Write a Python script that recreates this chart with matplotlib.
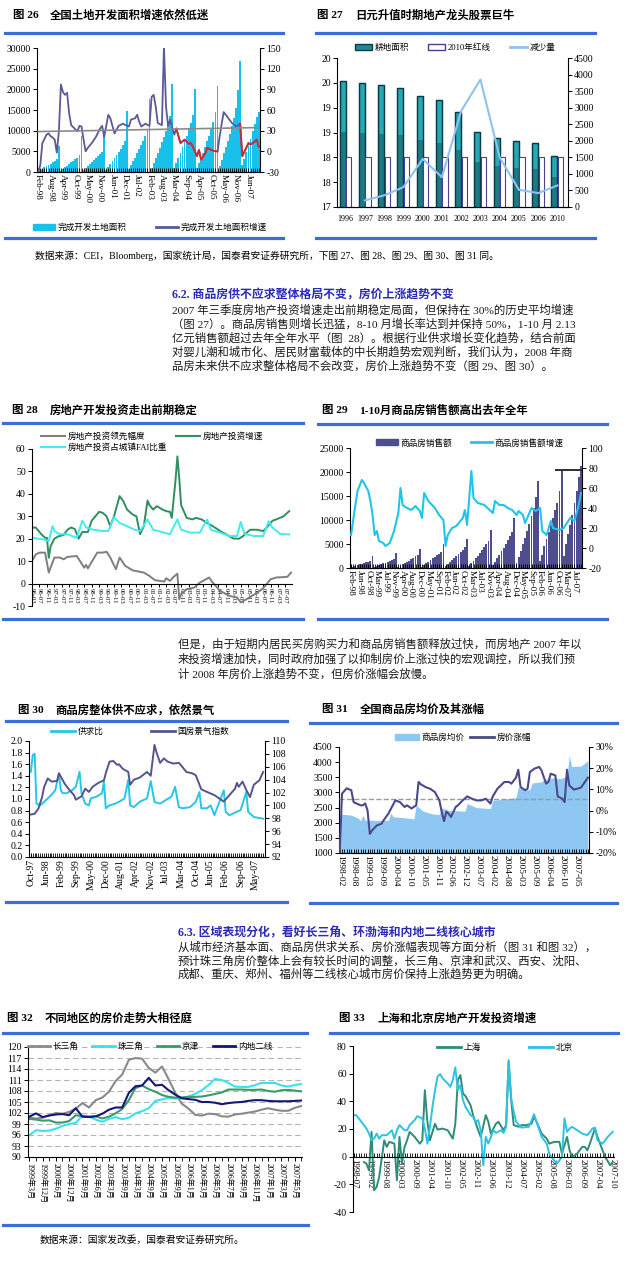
import matplotlib
matplotlib.use("Agg")
import matplotlib.pyplot as plt
from matplotlib.lines import Line2D
from matplotlib.patches import Patch

plt.rcParams['font.family'] = ['Liberation Serif', 'Noto Sans CJK SC']
plt.rcParams['axes.unicode_minus'] = False
plt.rcParams['axes.linewidth'] = 0.8

# ---------------- fig 26 data ----------------
c26_ticklabels = ["Feb-98", "Aug-98", "Apr-99", "Oct-99", "May-00", "Nov-00", "Jun-01", "Dec-01",
                  "Jul-02", "Feb-03", "Aug-03", "Mar-04", "Sep-04", "Apr-05", "Oct-05", "May-06",
                  "Nov-06", "Jun-07"]
land_1998 = [200, 500, 800, 1100, 1400, 1700, 2000, 2300, 2700, 3100, 6200]
land_1999 = [300, 700, 1100, 1500, 1900, 2300, 2700, 3100, 3500, 4200, 8800]
land_2000 = [400, 900, 1400, 1900, 2400, 2900, 3400, 3900, 4400, 4900, 10000]
land_2001 = [600, 1300, 2000, 2700, 3400, 4100, 4800, 5600, 6500, 7600, 14800]
land_2002 = [800, 1700, 2600, 3500, 4500, 5500, 6500, 7500, 8600, 10200, 17700]
land_2003 = [1000, 2200, 3400, 4600, 5900, 7200, 8500, 9800, 11300, 13600, 21200]
land_2004 = [1000, 2200, 3400, 4700, 6000, 7400, 8800, 10300, 11900, 13700, 20000]
land_2005 = [1000, 2200, 3400, 4700, 6000, 7400, 8800, 10300, 12000, 14400, 20800]
land_2006 = [1500, 3000, 4500, 6000, 7600, 9300, 11100, 13100, 15500, 19800, 26800]
land_2007 = [1600, 3200, 4800, 6400, 8100, 9800, 11600, 13200, 14600]
c26_growth_x = [0, 1, 2, 4, 5, 6, 7, 8, 9, 10, 11, 12, 13, 14, 15, 16, 19, 20, 21, 22,
                23, 24, 26, 28, 30, 31, 32, 34, 35, 37, 39, 41, 44, 45, 47, 48, 49, 50, 52, 54,
                55, 56, 57, 58, 60, 61, 62, 63, 64, 66, 67, 69, 71, 73, 74, 75, 77, 78, 79, 81,
                82, 84, 86, 87, 88, 89, 90, 94, 96, 98, 99, 102, 103, 105, 106, 107]
c26_growth_y = [-30, -20, 12, 24, 26, 22, 20, 17, -2, 28, 97, 86, 82, 85, 55, 38, 29, 37, 36, 17,
                0, 5, 12, 21, 33, 37, 21, 53, 48, 26, 37, 40, 36, 46, 48, 53, 43, 36, 40, 37,
                79, 82, 65, 41, 38, 152, 65, 37, 46, 24, 33, 12, 17, 11, 12, 7, -7, 2, -12, -3,
                5, 2, 0, 0, 21, 40, 57, 41, 36, 40, -7, 12, 10, 14, 17, 7]
c26_red_spans = [(67, 87), (98, 107)]
c26_trend = [28.7, 34.5]

# ---------------- fig 27 data ----------------
c27_years = ["1996", "1997", "1998", "1999", "2000", "2001", "2002", "2003", "2004", "2005", "2006", "2010"]
c27_farmland = [19.53, 19.49, 19.46, 19.40, 19.24, 19.16, 18.92, 18.52, 18.38, 18.32, 18.29, 18.02]
c27_redline = [18.0, 18.0, 18.0, 18.0, 18.0, 18.0, 18.0, 18.0, 18.0, 18.0, 18.0, 18.0]
c27_decrease_x = [1, 2, 3, 4, 5, 6, 7, 8, 9, 10, 11]
c27_decrease = [200, 350, 600, 1450, 900, 2900, 3850, 1500, 520, 420, 650]
c27_yticklabels = ["17", "18", "18", "19", "19", "20", "20"]

# ---------------- fig 28 data ----------------
c28_ticklabels = ["96-03", "96-07", "96-11", "97-03", "97-07", "97-11", "98-03", "98-07", "98-11",
                  "99-03", "99-07", "99-11", "00-03", "00-07", "00-11", "01-03", "01-07", "01-11",
                  "02-03", "02-07", "02-11", "03-03", "03-07", "03-11", "04-03", "04-07", "04-11",
                  "05-03", "05-07", "05-11", "06-03", "06-07", "06-11", "07-03", "07-07"]
c28_green_m = [0, 2, 5, 7, 8, 9, 10, 12, 14, 17, 19, 21, 23, 25, 27, 30, 32, 36, 38, 40,
               42, 44, 47, 49, 51, 54, 56, 58, 60, 62, 63, 65, 67, 70, 72, 74, 75, 77, 78, 79,
               80, 83, 86, 88, 91, 94, 97, 101, 104, 108, 111, 113, 117, 121, 124, 126, 129, 131, 135, 138]
c28_green_v = [24.9, 25, 22, 20.4, 20.4, 11.5, 16.7, 20, 21, 21.7, 24, 25, 24.3, 20, 23, 23, 28, 32, 31.5, 30,
               25.6, 30, 39, 36.7, 33, 30.8, 30, 22, 25.6, 37, 35, 33, 34.5, 33, 32.3, 32, 29.3, 46, 56.7, 47,
               35, 29.3, 28.6, 29.3, 28.6, 27, 25.6, 23.4, 22, 20.1, 20, 21, 24, 24, 23.4, 25, 28, 28.6, 30, 32.3]
c28_cyan_m = [0, 6, 9, 11, 12, 15, 19, 24, 27, 29, 33, 38, 41, 44, 47, 51, 55, 58, 62, 65,
              71, 74, 78, 80, 85, 90, 94, 96, 101, 106, 110, 112, 114, 119, 124, 127, 129, 133, 138]
c28_cyan_v = [20.4, 19.7, 19, 25.6, 23.4, 22, 22, 20.4, 28, 25, 24, 23.4, 23.4, 29.6, 27, 25.6, 24, 23.4, 28.6, 24,
              22.7, 22, 28.6, 24, 22.7, 22.7, 28.6, 24, 22.7, 21.2, 21.2, 27.5, 22.2, 21.2, 21.2, 27.8, 25, 22.2, 21.9]
c28_gray_m = [0, 2, 4, 7, 9, 12, 15, 17, 19, 24, 28, 29, 30, 35, 38, 40, 42, 45, 47, 50,
              54, 60, 63, 66, 71, 72, 74, 76, 78, 79, 80, 83, 87, 90, 95, 97, 101, 106, 110, 112,
              115, 121, 124, 128, 131, 137, 139]
c28_gray_v = [10, 13, 13.8, 13.8, 4.9, 11.6, 11.6, 10.8, 11.9, 12.3, 7.1, 8.3, 6.8, 13.8, 13.8, 14.2, 11.6, 6.4, 11.6, 7.9,
              5.9, 4.9, 3.4, 1.5, 0.9, 2.4, 1.2, 3, 4.4, -7, -4.7, -2.5, -1.8, 0.4, 2.7, 0.4, -3.3, -5.5, -6.2, -8.4,
              -7, -4, -2.1, 1.9, 2.7, 3, 4.9]

# ---------------- fig 29 data ----------------
c29_ticklabels = ["Feb-98", "Jun-98", "Oct-98", "Mar-99", "Jul-99", "Nov-99", "Apr-00", "Aug-00", "Dec-00",
                  "May-01", "Sep-01", "Feb-02", "Jun-02", "Oct-02", "Mar-03", "Jul-03", "Nov-03", "Apr-04",
                  "Aug-04", "Dec-04", "May-05", "Sep-05", "Feb-06", "Jun-06", "Oct-06", "Mar-07", "Jul-07"]
sales_1998 = [150, 300, 450, 600, 750, 900, 1050, 1200, 1350, 1500, 2500]
sales_1999 = [200, 400, 600, 800, 950, 1100, 1300, 1500, 1700, 1900, 3100]
sales_2000 = [250, 500, 750, 1000, 1300, 1550, 1800, 2100, 2400, 2700, 3900]
sales_2001 = [300, 650, 1000, 1300, 1650, 2000, 2300, 2650, 3000, 3400, 4900]
sales_2002 = [400, 800, 1200, 1600, 2000, 2500, 2900, 3300, 3800, 4300, 6000]
sales_2003 = [500, 1000, 1500, 2000, 2600, 3200, 3700, 4300, 4900, 5600, 8000]
sales_2004 = [600, 1300, 2000, 2700, 3500, 4200, 5000, 5800, 6600, 7500, 10400]
sales_2005 = [1100, 2300, 3500, 4900, 6300, 7700, 9200, 10800, 12600, 14700, 18100]
sales_2006 = [1500, 2800, 4500, 6000, 7500, 9000, 10500, 12000, 13500, 16000, 20500]
sales_2007 = [2500, 5000, 7000, 9000, 11000, 13500, 16000, 19000, 21300]
c29_growth_x = [0, 2, 3, 5, 6, 8, 9, 10, 11, 12, 13, 15, 16, 18, 20, 22, 23, 24, 26, 28,
                30, 32, 33, 34, 36, 39, 41, 43, 44, 45, 47, 49, 52, 53, 54, 56, 57, 59, 62, 66,
                67, 69, 71, 73, 75, 77, 78, 80, 81, 84, 86, 88, 89, 91, 93, 94, 97, 99, 102, 104, 106, 107]
c29_growth_y = [13, 43, 57, 68, 65, 57, 47, 33, 13, 17, 7, 5, 2, 5, 17, 35, 60, 43, 40, 38,
                42, 37, 30, 55, 47, 40, 33, 28, 2, 13, 20, 22, 30, 38, 23, 77, 50, 45, 43, 35,
                47, 43, 43, 40, 38, 33, 37, 33, 25, 40, 37, 40, 17, 13, 27, 20, 18, 20, 30, 27, 43, 55]
c29_mark_level = 20500
c29_mark_span = (95, 107.4)

# ---------------- fig 30 data ----------------
c30_ticklabels = ["Oct-97", "Jun-98", "Feb-99", "Sep-99", "May-00", "Dec-00", "Aug-01", "Apr-02",
                  "Nov-02", "Jul-03", "Mar-04", "Oct-04", "Jun-05", "Feb-06", "Sep-06", "May-07"]
c30_ratio_x = [0, 1, 2, 3, 5, 7, 9, 11, 13, 15, 16, 17, 19, 22, 24, 26, 27, 29, 31, 32,
               35, 38, 39, 40, 42, 45, 47, 50, 52, 53, 55, 58, 62, 64, 66, 69, 72, 75, 77, 79,
               81, 85, 88, 90, 91, 94, 96, 98, 99, 103, 104, 106, 110, 112, 115, 116, 119, 124]
c30_ratio_y = [1.47, 1.76, 1.78, 0.92, 0.89, 0.95, 1.01, 1.07, 1.15, 1.44, 1.15, 1.10, 1.10, 1.15, 1.21, 1.47, 1.10, 0.92, 0.89, 1.01,
               1.04, 1.10, 1.30, 0.84, 0.89, 0.92, 0.95, 1.01, 1.33, 0.89, 0.86, 0.95, 1.01, 1.31, 0.95, 0.92, 0.98, 1.04, 1.21, 0.86,
               0.84, 0.86, 0.95, 1.12, 0.84, 0.84, 0.89, 0.72, 0.81, 1.15, 0.78, 0.72, 0.78, 0.81, 1.12, 0.78, 0.69, 0.66]
c30_index_x = [0, 2, 4, 6, 7, 9, 11, 14, 15, 18, 20, 23, 24, 27, 29, 31, 33, 36, 39, 40,
               42, 44, 46, 47, 49, 52, 53, 55, 58, 62, 64, 66, 67, 69, 71, 73, 76, 79, 80, 83,
               86, 88, 91, 94, 98, 103, 106, 109, 110, 111, 113, 115, 117, 119, 122, 124]
c30_index_y = [98.6, 98.7, 99.5, 101.3, 102.8, 104.2, 103.7, 103.8, 105.0, 103.4, 102.6, 101.6, 100.9, 101.4, 102.6, 102.1, 102.9, 103.5, 103.9, 105.0,
               106.8, 106.9, 106.3, 106.4, 105.7, 105.2, 103.2, 104.0, 104.3, 105.2, 104.6, 109.4, 108.3, 106.6, 107.3, 106.8, 106.5, 106.6, 106.3, 105.2,
               105.0, 104.7, 102.5, 102.1, 101.6, 100.6, 101.6, 102.6, 103.5, 102.9, 103.7, 102.4, 101.3, 103.2, 103.9, 105.2]

# ---------------- fig 31 data ----------------
c31_ticklabels = ["1998-02", "1998-08", "1999-03", "1999-09", "2000-04", "2000-10", "2001-05", "2001-11",
                  "2002-06", "2002-12", "2003-07", "2004-02", "2004-08", "2005-03", "2005-09", "2006-04",
                  "2006-10", "2007-05"]
c31_price_x = [0, 1, 5, 8, 9, 10, 11, 21, 22, 23, 32, 33, 36, 40, 43, 44, 47, 54, 55, 59,
               65, 66, 72, 76, 77, 80, 82, 83, 87, 88, 92, 95, 98, 99, 100, 104, 107]
c31_price_y = [2135, 2280, 2250, 2150, 2060, 2245, 2080, 2080, 2320, 2200, 2130, 2575, 2380, 2290, 2270, 2490, 2410, 2380, 2630, 2500,
               2465, 2740, 2790, 2830, 3180, 3070, 3100, 3310, 3350, 3420, 3480, 3450, 3530, 4225, 3860, 3870, 4040]
c31_rise_x = [0, 1, 3, 5, 6, 9, 10, 11, 12, 13, 14, 16, 18, 19, 21, 24, 26, 28, 29, 31,
              33, 34, 35, 37, 39, 41, 43, 44, 45, 46, 47, 48, 50, 51, 53, 55, 57, 59, 61, 63,
              65, 66, 68, 71, 73, 74, 76, 77, 78, 80, 81, 82, 84, 86, 87, 89, 90, 91, 93, 94,
              96, 97, 98, 99, 101, 104, 107]
c31_rise_y = [-19.5, 8, 10.5, 9.6, 4, 2.5, 2.5, 3.4, 0.1, -11, -9.3, -7, -6.2, -4.5, -1.4, 4.8, 4, 1.7, 2.5, 1,
              2.5, 13.5, 12.4, 11.1, 10.3, 8.8, 4.8, -0.7, -5, -0.5, -1.5, -3, 1.7, 2.5, 4.8, 6.7, 5.6, 4.8, 4.8, 5.6,
              3.3, 6.7, 10.3, 13.5, 13.5, 12.7, 15.5, 19.3, 11.1, 9.6, 10.3, 18.2, 19.8, 20.6, 19, 12.7, 13.5, 17.4, 16.6, 6.7,
              5.6, 4, 19.3, 11.9, 9.9, 10.8, 15.5]
c31_ref_level = 2780

# ---------------- fig 32 data ----------------
c32_ticklabels = ["1999年3月", "1999年12月", "2000年6月", "2000年12月", "2001年9月", "2002年6月", "2003年3月",
                  "2003年9月", "2004年3月", "2004年9月", "2005年3月", "2005年9月", "2006年1月", "2006年3月",
                  "2006年5月", "2006年7月", "2006年9月", "2006年11月", "2007年1月", "2007年3月", "2007年5月"]
c32_yrd = [100.7, 100.5, 100.7, 101.4, 102.0, 101.8, 102.3, 103.2, 104.7, 103.5, 105.5, 106.2, 107.8, 110.7,
           112.5, 116.5, 117.0, 116.8, 114.3, 113.0, 114.7, 111.2, 107.5, 104.5, 103.2, 101.5, 101.3, 101.8,
           101.7, 101.1, 101.0, 101.6, 101.8, 102.1, 102.4, 102.9, 103.3, 102.9, 102.6, 102.6, 103.4, 103.9]
c32_prd = [95.9, 97.3, 97.1, 97.2, 97.7, 98.5, 99.0, 99.3, 101.3, 101.0, 100.2, 99.6, 100.4, 100.9,
           100.3, 100.7, 101.9, 102.5, 103.3, 105.3, 105.7, 106.2, 105.9, 106.2, 106.5, 107.2, 108.2, 109.6,
           111.3, 111.0, 110.2, 109.2, 109.1, 109.1, 109.6, 110.2, 110.2, 110.2, 109.5, 109.2, 109.6, 109.9]
c32_jj = [100.4, 100.2, 99.9, 100.0, 99.4, 99.4, 99.8, 101.4, 101.1, 101.0, 101.1, 100.5, 101.0, 101.9,
          103.1, 105.5, 108.8, 109.5, 108.5, 107.8, 106.9, 106.4, 106.2, 106.2, 106.4, 106.4, 106.5, 106.8,
          107.2, 107.6, 108.4, 108.4, 108.4, 108.3, 108.3, 108.4, 108.0, 107.8, 108.2, 108.3, 108.1, 107.9]
c32_inland = [101.0, 101.9, 100.9, 101.3, 101.6, 101.7, 101.4, 103.3, 101.0, 100.9, 101.1, 101.8, 102.9, 103.5,
              103.5, 107.5, 109.3, 109.5, 111.6, 109.5, 109.7, 108.2, 107.0, 106.0, 105.8, 105.6, 105.0, 105.0,
              104.8, 104.4, 104.7, 104.9, 105.0, 105.3, 105.5, 105.5, 105.3, 105.2, 105.2, 105.2, 105.3, 105.4]

# ---------------- fig 33 data ----------------
c33_ticklabels = ["1998-07", "1999-02", "1999-08", "2000-03", "2000-09", "2001-04", "2001-10", "2002-05",
                  "2002-11", "2003-06", "2003-12", "2004-07", "2005-02", "2005-08", "2006-03", "2006-09",
                  "2007-04", "2007-10"]
c33_bj_x = [0, 1, 3, 5, 6, 7, 8, 9, 10, 11, 13, 15, 16, 17, 18, 20, 21, 22, 24, 25,
            27, 28, 29, 30, 31, 32, 33, 34, 35, 37, 38, 39, 40, 41, 42, 43, 44, 46, 47, 48,
            49, 50, 51, 52, 53, 54, 55, 56, 58, 59, 60, 61, 62, 63, 64, 66, 69, 71, 72, 74,
            76, 77, 79, 80, 82, 83, 84, 85, 86, 88, 90, 92, 94, 95, 96, 98, 100, 102]
c33_bj_v = [30, 30, 25.2, 20.3, 16.7, 11.8, 13, 16.7, 13, 15.5, 15.5, 19.1, 13, 19.1, 22.8, 19.1, 19.1, 22.8, 26.4, 29.3,
            27.6, 20.3, 9.4, 21.6, 36, 48.1, 57.8, 59.7, 56.6, 52.9, 50.5, 55.4, 64.5, 48.1, 51.7, 40.9, 36, 30, 28.8, 25.2,
            26.4, 19.1, -6.2, 14.3, 9.4, 14.3, 19.1, 17.2, 19.1, 17.2, 21.6, 69.9, 42.1, 32.4, 25.2, 21, 21.6, 30.7, 25.2, 14.3,
            9.4, 2.2, -3.1, -5, -0.2, 27.6, 17.9, 20.3, 21.6, 19.1, 16.7, 15.5, 20.3, 21, 11.8, 9.4, 14.3, 17.9]
c33_sh_x = [4, 5, 6, 7, 8, 9, 10, 12, 13, 14, 16, 17, 18, 19, 20, 21, 22, 24, 25, 26,
            27, 28, 29, 30, 32, 33, 35, 37, 39, 40, 41, 42, 43, 44, 46, 47, 49, 50, 52, 53,
            54, 56, 57, 59, 60, 61, 62, 63, 65, 66, 68, 70, 71, 72, 74, 76, 77, 79, 81, 82,
            84, 85, 86, 88, 90, 91, 92, 93, 95, 96, 98, 99, 101, 102]
c33_sh_v = [-3.9, -5, -9.9, 17.9, -24.3, -21.9, -14.7, 11.8, 7.1, 10.7, 9.4, -17.1, 14.3, -5, 7.1, 11.8, 17.9, 14.3, 11.8, 9.4,
            11.8, 48.1, 25.2, 11.8, 23.8, 19.6, 20.3, 19.1, 13, 23.8, 55.4, 59, 45.7, 43.8, 37.2, 30, 19.1, 14.3, 30, 25.2,
            16.7, 23.8, 25.2, 19.1, 22.8, 68.6, 40.9, 22.8, 21.6, 22.8, 22.8, 23.8, 28.8, 25.2, 16.7, 13, 9.4, 10.7, 10.7, 2.2,
            14.3, 4.6, -0.2, 2.2, 7.1, 7.1, 4.6, 9.4, 20.3, 14.3, 4.6, -0.2, -6.2, -3.9]

# ---------------- text ----------------
source_top = "数据来源：CEI，Bloomberg，国家统计局，国泰君安证券研究所，下图 27、图 28、图 29、图 30、图 31 同。"
head_62 = "6.2. 商品房供不应求整体格局不变，房价上涨趋势不变"
para_62 = ["2007 年三季度房地产投资增速走出前期稳定局面，但保持在 30%的历史平均增速",
           "（图 27）。商品房销售则增长迅猛，8-10 月增长率达到并保持 50%，1-10 月 2.13",
           "亿元销售额超过去年全年水平（图  28）。根据行业供求增长变化趋势，结合前面",
           "对婴儿潮和城市化、居民财富载体的中长期趋势宏观判断，我们认为，2008 年商",
           "品房未来供不应求整体格局不会改变，房价上涨趋势不变（图 29、图 30）。"]
para_mid = ["但是，由于短期内居民买房购买力和商品房销售额释放过快，而房地产 2007 年以",
            "来投资增速加快，同时政府加强了以抑制房价上涨过快的宏观调控，所以我们预",
            "计 2008 年房价上涨趋势不变，但房价涨幅会放慢。"]
head_63 = "6.3. 区域表现分化，看好长三角、环渤海和内地二线核心城市"
para_63 = ["从城市经济基本面、商品房供求关系、房价涨幅表现等方面分析（图 31 和图 32），",
           "预计珠三角房价整体上会有较长时间的调整，长三角、京津和武汉、西安、沈阳、",
           "成都、重庆、郑州、福州等二线核心城市房价保持上涨趋势更为明确。"]
source_bottom = "数据来源：国家发改委，国泰君安证券研究所。"

BLUE = '#3b6fd6'
W, H = 630, 1265
fig = plt.figure(figsize=(W / 100, H / 100), dpi=100)


def axes_px(x0, y0, x1, y1):
    return fig.add_axes([x0 / W, 1 - y1 / H, (x1 - x0) / W, (y1 - y0) / H])


def rule(y, x0, x1):
    fig.add_artist(Line2D([x0 / W, x1 / W], [1 - y / H, 1 - y / H], color=BLUE, lw=2.3))


def put(x, y, s, **kw):
    kw.setdefault('va', 'center')
    fig.text(x / W, 1 - y / H, s, **kw)


def title(xn, xt, y, num, txt):
    put(xn, y, num, fontsize=8.2, weight='bold')
    put(xt, y, txt, fontsize=8.2, weight='bold')


def legend(handles, labels, cx, cy, ncol, **kw):
    fig.legend(handles, labels, loc='center', bbox_to_anchor=(cx / W, 1 - cy / H), ncol=ncol,
               frameon=False, fontsize=6.2, handletextpad=0.3, borderaxespad=0, **kw)


def clean(ax, left=True, right=False):
    ax.spines['top'].set_visible(False)
    ax.spines['left'].set_visible(left)
    ax.spines['right'].set_visible(right)
    ax.tick_params(labelsize=7, length=3, width=0.7, pad=1.5)


# ================= fig 26 =================
title(13, 50, 15, "图 26", "全国土地开发面积增速依然低迷")
rule(33, 5, 283)
land = land_1998 + land_1999 + land_2000 + land_2001 + land_2002 + land_2003 + land_2004 + land_2005 + land_2006 + land_2007
x26 = list(range(len(land)))
ax = axes_px(37, 48, 260, 172)
clean(ax)
ax.bar(x26, land, width=0.9, color='#19c0ea', lw=0)
ax.set_xlim(-0.6, len(land) - 0.4)
ax.set_ylim(0, 30000)
ax.set_yticks(range(0, 30001, 5000))
ax.set_xticks(range(0, len(land), 6))
ax.set_xticklabels(c26_ticklabels, rotation=-90, fontsize=6.6)
ax.set_xticks(x26, minor=True)
ax.tick_params(axis='x', which='both', direction='in', length=3)
ax2 = ax.twinx()
clean(ax2, left=False, right=True)
ax2.set_ylim(-30, 150)
ax2.set_yticks(range(-30, 151, 30))
ax2.plot(c26_growth_x, c26_growth_y, color='#5a5a98', lw=1.3)
for a, b in c26_red_spans:
    xs = [x for x in c26_growth_x if a <= x <= b]
    ys = [y for x, y in zip(c26_growth_x, c26_growth_y) if a <= x <= b]
    ax2.plot(xs, ys, color='#d42a2a', lw=1.3)
ax2.plot([0, len(land) - 1], c26_trend, color='#8a8a8a', lw=1.2)
legend([Patch(color='#19c0ea'), Line2D([], [], color='#5a5a98', lw=2)],
       ["完成开发土地面积", "完成开发土地面积增速"], 150, 228, 2, columnspacing=3.5, handlelength=2.5)
rule(238, 5, 283)

# ================= fig 27 =================
title(317, 355, 15, "图 27", "日元升值时期地产龙头股票巨牛")
rule(33, 316, 595)
x27 = list(range(len(c27_years)))
ax = axes_px(337, 58, 568, 207)
clean(ax)
ax.bar([x - 0.16 for x in x27], c27_farmland, width=0.32, color='#25a9b3', edgecolor='#0b3a48', lw=0.9)
# darker lower half of each farmland bar, imitating the gradient fill
ax.bar([x - 0.16 for x in x27], [17 + (v - 17) * 0.6 for v in c27_farmland], width=0.32,
       color='#1a6f78', lw=0, alpha=0.8)
ax.bar([x - 0.16 for x in x27], c27_farmland, width=0.32, fill=False, edgecolor='#0b3a48', lw=0.9)
ax.bar([x + 0.16 for x in x27], c27_redline, width=0.28, color='white', edgecolor='#4d3d8f', lw=0.8)
ax.set_ylim(17, 20)
ax.set_xlim(-0.45, len(x27) - 0.45)
ax.set_yticks([17, 17.5, 18, 18.5, 19, 19.5, 20])
ax.set_yticklabels(c27_yticklabels)
ax.set_xticks(x27)
ax.set_xticklabels(c27_years, fontsize=5.8)
ax.tick_params(axis='x', length=0, pad=6)
ax2 = ax.twinx()
clean(ax2, left=False, right=True)
ax2.set_ylim(0, 4500)
ax2.set_yticks(range(0, 4501, 500))
ax2.plot(c27_decrease_x, c27_decrease, color='#90c2f0', lw=1.5)
legend([Patch(facecolor='#1f8a94', edgecolor='#0b3a48'), Patch(facecolor='white', edgecolor='#4d3d8f'),
        Line2D([], [], color='#90c2f0', lw=2)], ["耕地面积", "2010年红线", "减少量"], 455, 48, 3,
       columnspacing=2.2, handlelength=2.0)
rule(238, 316, 595)

# source line + section 6.2
put(35, 256, source_top, fontsize=7)
put(172, 295, head_62, fontsize=8.6, weight='bold', color='#2a2ab8')
for i, line in enumerate(para_62):
    put(172, 310 + 14 * i, line, fontsize=8.2, color='#1a1a1a')

# ================= fig 28 =================
title(12, 50, 410, "图 28", "房地产开发投资走出前期稳定")
rule(423, 3, 303)
ax = axes_px(32, 449, 292, 606)
clean(ax)
ax.spines['bottom'].set_position(('data', 0))
ax.plot(c28_gray_m, c28_gray_v, color='#7f7f7f', lw=1.4)
ax.plot(c28_green_m, c28_green_v, color='#2f8f5e', lw=1.4)
ax.plot(c28_cyan_m, c28_cyan_v, color='#3fecf2', lw=1.4)
ax.set_xlim(0, 139.5)
ax.set_ylim(-10, 60)
ax.set_yticks(range(-10, 61, 10))
ax.set_xticks(range(0, 140, 4))
ax.set_xticklabels(c28_ticklabels, rotation=-90, fontsize=4.8)
ax.tick_params(axis='x', length=2)
legend([Line2D([], [], color='#7f7f7f', lw=1.5), Line2D([], [], color='#3fecf2', lw=1.5),
        Line2D([], [], color='#2f8f5e', lw=1.5)],
       ["房地产投资领先幅度", "房地产投资占城镇FAI比重", "房地产投资增速"], 152, 442, 2,
       columnspacing=1.0, handlelength=2.8, labelspacing=0.25)
rule(619, 3, 303)

# ================= fig 29 =================
title(322, 359, 410, "图 29", "1-10月商品房销售额高出去年全年")
rule(424, 318, 607)
sales = sales_1998 + sales_1999 + sales_2000 + sales_2001 + sales_2002 + sales_2003 + sales_2004 + sales_2005 + sales_2006 + sales_2007
x29 = list(range(len(sales)))
ax = axes_px(350, 448, 582, 568)
clean(ax)
ax.bar(x29, sales, width=0.85, color='#4e4e8e', lw=0)
ax.hlines(c29_mark_level, c29_mark_span[0], c29_mark_span[1], color='#303030', lw=1.4)
ax.set_xlim(-0.5, len(sales) - 0.5)
ax.set_ylim(0, 25000)
ax.set_yticks(range(0, 25001, 5000))
ax.set_xticks(range(0, len(sales), 4))
ax.set_xticklabels(c29_ticklabels, rotation=-90, fontsize=6.6)
ax.set_xticks(x29, minor=True)
ax.tick_params(axis='x', which='both', direction='in', length=3)
ax2 = ax.twinx()
clean(ax2, left=False, right=True)
ax2.set_ylim(-20, 100)
ax2.set_yticks(range(-20, 101, 20))
ax2.plot(c29_growth_x, c29_growth_y, color='#22c4ec', lw=1.5)
legend([Patch(color='#4e4e8e'), Line2D([], [], color='#22c4ec', lw=2)],
       ["商品房销售额", "商品房销售额增速"], 470, 443, 2, columnspacing=2.2, handlelength=2.5)
rule(619, 318, 607)

# middle paragraph
for i, line in enumerate(para_mid):
    put(178, 644 + 15 * i, line, fontsize=8.2, color='#1a1a1a')

# ================= fig 30 =================
title(18, 55, 710, "图 30", "商品房整体供不应求，依然景气")
rule(721, 6, 287)
ax = axes_px(29, 741, 265, 857)
clean(ax)
ax.plot(c30_ratio_x, c30_ratio_y, color='#27c5ea', lw=1.4)
ax.set_xlim(-1, 125)
ax.set_ylim(0, 2)
ax.set_yticks([0, 0.2, 0.4, 0.6, 0.8, 1.0, 1.2, 1.4, 1.6, 1.8, 2.0])
ax.set_yticklabels(["0.0", "0.2", "0.4", "0.6", "0.8", "1.0", "1.2", "1.4", "1.6", "1.8", "2.0"])
ax.set_xticks(range(0, 125, 8))
ax.set_xticklabels(c30_ticklabels, rotation=90, fontsize=7)
ax.set_xticks(range(0, 125), minor=True)
ax.tick_params(axis='x', which='both', direction='in', length=3)
ax2 = ax.twinx()
clean(ax2, left=False, right=True)
ax2.plot(c30_index_x, c30_index_y, color='#55558c', lw=1.4)
ax2.set_ylim(92, 110)
ax2.set_yticks(range(92, 111, 2))
legend([Line2D([], [], color='#27c5ea', lw=2), Line2D([], [], color='#55558c', lw=2)],
       ["供求比", "国房景气指数"], 140, 732, 2, columnspacing=5.5, handlelength=2.8)
rule(902, 6, 287)

# ================= fig 31 =================
title(322, 360, 709, "图 31", "全国商品房均价及其涨幅")
rule(723, 310, 617)
ax = axes_px(339, 747, 589, 853)
clean(ax)
ax.fill_between(c31_price_x, 1000, c31_price_y, color='#8ec8f2', lw=0)
ax.axhline(c31_ref_level, ls='--', color='#9a9a9a', lw=1.0, zorder=3)
ax.set_xlim(-0.3, 107.5)
ax.set_ylim(1000, 4500)
ax.set_yticks(range(1000, 4501, 500))
ax.set_xticks(range(0, 108, 6))
ax.set_xticklabels(c31_ticklabels, rotation=-90, fontsize=6.8)
ax.set_xticks(range(0, 108), minor=True)
ax.tick_params(axis='x', which='both', direction='in', length=3)
ax2 = ax.twinx()
clean(ax2, left=False, right=True)
ax2.plot(c31_rise_x, c31_rise_y, color='#4a4a8a', lw=1.5)
ax2.set_ylim(-20, 30)
ax2.set_yticks(range(-20, 31, 10))
ax2.set_yticklabels([f"{v}%" for v in range(-20, 31, 10)])
legend([Patch(color='#8ec8f2'), Line2D([], [], color='#4a4a8a', lw=2)],
       ["商品房均价", "房价涨幅"], 463, 738, 2, columnspacing=0.6, handlelength=2.8)
rule(903, 310, 617)

# section 6.3
put(178, 933, head_63, fontsize=8.6, weight='bold', color='#2a2ab8')
for i, line in enumerate(para_63):
    put(178, 947 + 13.6 * i, line, fontsize=8.2, color='#1a1a1a')

# ================= fig 32 =================
title(7, 45, 1018, "图 32", "不同地区的房价走势大相径庭")
rule(1033, 3, 307)
x32 = list(range(len(c32_yrd)))
ax = axes_px(28, 1047, 302, 1157)
clean(ax)
ax.yaxis.grid(True, ls=(0, (5, 3)), color='#b4b4b4', lw=0.8)
ax.set_axisbelow(True)
ax.plot(x32, c32_yrd, color='#8a8a8a', lw=1.5)
ax.plot(x32, c32_prd, color='#38e2f0', lw=1.5)
ax.plot(x32, c32_jj, color='#3a9a6a', lw=1.5)
ax.plot(x32, c32_inland, color='#16167a', lw=1.5)
ax.set_xlim(-0.2, len(x32) - 0.9)
ax.set_ylim(90, 120)
ax.set_yticks(range(90, 121, 3))
ax.set_xticks(range(0, len(x32), 2))
ax.set_xticklabels(c32_ticklabels, rotation=-90, fontsize=5.8)
ax.set_xticks(x32, minor=True)
ax.tick_params(axis='x', which='both', direction='out', length=3)
legend([Line2D([], [], color=c, lw=2) for c in ['#8a8a8a', '#38e2f0', '#3a9a6a', '#16167a']],
       ["长三角", "珠三角", "京津", "内地二线"], 150, 1047, 4, columnspacing=1.6, handlelength=2.6)
rule(1225, 3, 308)
put(40, 1240, source_bottom, fontsize=7)

# ================= fig 33 =================
title(339, 378, 1018, "图 33", "上海和北京房地产开发投资增速")
rule(1033, 330, 618)
ax = axes_px(353, 1046, 614, 1212)
clean(ax)
ax.spines['bottom'].set_position(('data', 0))
ax.plot(c33_sh_x, c33_sh_v, color='#2e8c78', lw=1.4)
ax.plot(c33_bj_x, c33_bj_v, color='#2ec2e2', lw=1.4)
ax.set_xlim(-0.3, 102.5)
ax.set_ylim(-40, 80)
ax.set_yticks(range(-40, 81, 20))
ax.set_xticks(range(0, 103, 6))
ax.set_xticklabels(c33_ticklabels, rotation=-90, fontsize=6.3)
ax.set_xticks(range(0, 103), minor=True)
ax.tick_params(axis='x', which='both', direction='in', length=3)
legend([Line2D([], [], color='#2e8c78', lw=2), Line2D([], [], color='#2ec2e2', lw=2)],
       ["上海", "北京"], 505, 1048, 2, columnspacing=5.5, handlelength=2.8)

fig.savefig("out.png", dpi=100, facecolor='white')
